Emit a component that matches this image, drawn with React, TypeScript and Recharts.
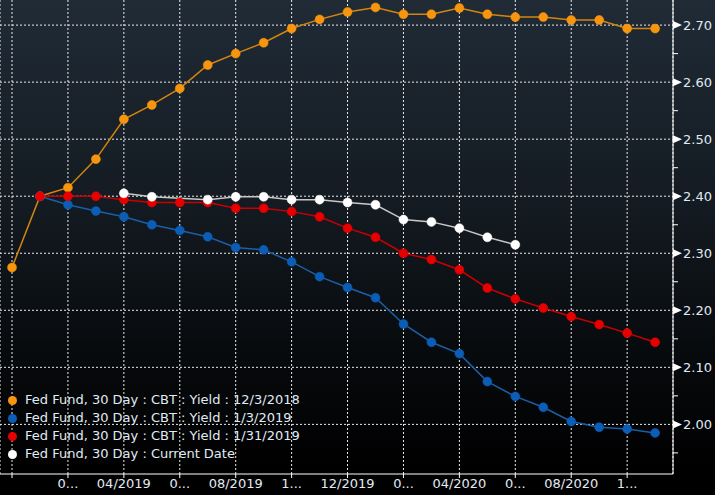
import React from 'react';
import { LineChart, Line, XAxis, YAxis, CartesianGrid, Legend } from 'recharts';

// month slots, 12/2018 .. 11/2020
const months = [
    '12/2018', '01/2019', '02/2019', '03/2019', '04/2019', '05/2019', '06/2019', '07/2019',
    '08/2019', '09/2019', '10/2019', '11/2019', '12/2019', '01/2020', '02/2020', '03/2020',
    '04/2020', '05/2020', '06/2020', '07/2020', '08/2020', '09/2020', '10/2020', '11/2020',
];

const yield12_3 = [
    2.275, 2.4, 2.415, 2.465, 2.535, 2.56, 2.589, 2.63, 2.65, 2.669, 2.694, 2.71,
    2.723, 2.731, 2.719, 2.719, 2.73, 2.719, 2.714, 2.714, 2.709, 2.709, 2.694, 2.694,
];
const yield1_3 = [
    null, 2.4, 2.385, 2.374, 2.364, 2.35, 2.34, 2.329, 2.31, 2.306, 2.285, 2.259,
    2.24, 2.222, 2.176, 2.144, 2.124, 2.075, 2.049, 2.03, 2.005, 1.995, 1.992, 1.985,
];
const yield1_31 = [
    null, 2.4, 2.4, 2.4, 2.394, 2.389, 2.389, 2.389, 2.379, 2.379, 2.373, 2.364,
    2.344, 2.328, 2.3, 2.289, 2.271, 2.239, 2.22, 2.204, 2.189, 2.175, 2.16, 2.144,
];
const currentDate = [
    null, null, null, null, 2.405, 2.399, null, 2.394, 2.399, 2.399, 2.394, 2.394,
    2.389, 2.385, 2.359, 2.355, 2.344, 2.328, 2.315, null, null, null, null, null,
];

const xTicks = [0, 2, 4, 6, 8, 10, 12, 14, 16, 18, 20, 22];
const xTickLabels = ['', '0...', '04/2019', '0...', '08/2019', '1...', '12/2019', '0...', '04/2020', '0...', '08/2020', '1...'];
const yMajor = [2.0, 2.1, 2.2, 2.3, 2.4, 2.5, 2.6, 2.7];
const yAll = [1.95, 2.0, 2.05, 2.1, 2.15, 2.2, 2.25, 2.3, 2.35, 2.4, 2.45, 2.5, 2.55, 2.6, 2.65, 2.7];

const series = [
    { key: 's1', name: 'Fed Fund, 30 Day : CBT : Yield : 12/3/2018', values: yield12_3, line: '#d4850f', dot: '#f7960e' },
    { key: 's2', name: 'Fed Fund, 30 Day : CBT : Yield : 1/3/2019', values: yield1_3, line: '#1a5fa8', dot: '#0b5db5' },
    { key: 's3', name: 'Fed Fund, 30 Day : CBT : Yield : 1/31/2019', values: yield1_31, line: '#c90000', dot: '#e60000' },
    { key: 's4', name: 'Fed Fund, 30 Day : Current Date', values: currentDate, line: '#c8c8c8', dot: '#ffffff' },
];

const data = months.map((m, i) => {
    const row: any = { idx: i, month: m };
    series.forEach((s) => {
        row[s.key] = s.values[i];
    });
    return row;
});

const FONT = '"DejaVu Sans", sans-serif';
const TEXT = '#e0ebf4';

const YTick = (props: any) => {
    const { x, y, payload } = props;
    const v = payload.value;
    const major = Math.round(v * 100) % 10 === 0;
    if (!major) {
        return <line x1={x} y1={y} x2={x + 5} y2={y} stroke="#ffffff" strokeWidth={1} />;
    }
    return (
        <g>
            <polygon points={`${x},${y - 4} ${x + 9},${y} ${x},${y + 4}`} fill="#ffffff" />
            <text x={x + 10} y={y} dy="0.35em" fill={TEXT} fontSize={13} fontFamily={FONT}>
                {v.toFixed(2)}
            </text>
        </g>
    );
};

const LegendBox = () => (
    <div style={{ fontFamily: FONT, fontSize: 13, color: TEXT, lineHeight: '18px' }}>
        {series.map((s) => (
            <div key={s.key} style={{ display: 'flex', alignItems: 'center', whiteSpace: 'nowrap' }}>
                <span
                    style={{
                        display: 'inline-block',
                        width: 9,
                        height: 9,
                        borderRadius: '50%',
                        background: s.dot,
                        marginRight: 8,
                    }}
                />
                {s.name}
            </div>
        ))}
    </div>
);

export default function App() {
    return (
        <div
            style={{
                position: 'fixed',
                left: 0,
                top: 0,
                width: 715,
                height: 495,
                background: 'linear-gradient(#202b36 0%, #141b22 40%, #080b0e 70%, #010102 92%, #000000 100%)',
            }}
        >
            <LineChart width={715} height={495} data={data} margin={{ top: 0, right: 0, bottom: 0, left: 0 }}>
                <CartesianGrid
                    stroke="#ececec"
                    strokeDasharray="2 2"
                    horizontalValues={yMajor}
                />
                <XAxis
                    dataKey="idx"
                    type="number"
                    domain={[-0.43, 23.64]}
                    ticks={xTicks}
                    tickFormatter={(v: number) => xTickLabels[xTicks.indexOf(v)]}
                    axisLine={{ stroke: '#ffffff' }}
                    tickLine={{ stroke: '#ffffff' }}
                    tickSize={4}
                    tickMargin={1}
                    height={21}
                    tick={{ fill: TEXT, fontSize: 13, fontFamily: FONT }}
                    interval={0}
                    allowDataOverflow
                />
                <YAxis
                    orientation="right"
                    domain={[1.913, 2.744]}
                    ticks={yAll}
                    tick={<YTick />}
                    tickSize={0}
                    tickMargin={0}
                    tickLine={false}
                    axisLine={{ stroke: '#ffffff' }}
                    width={42}
                    interval={0}
                    allowDataOverflow
                />
                {series.map((s) => (
                    <Line
                        key={s.key}
                        type="linear"
                        dataKey={s.key}
                        name={s.name}
                        stroke={s.line}
                        strokeWidth={1.5}
                        dot={{ r: 4.5, fill: s.dot, stroke: s.dot, strokeWidth: 0.5 }}
                        activeDot={false}
                        connectNulls
                        isAnimationActive={false}
                    />
                ))}
                <Legend
                    layout="horizontal"
                    verticalAlign="middle"
                    align="center"
                    content={<LegendBox />}
                    wrapperStyle={{ left: 8, top: 391, width: 'auto', height: 'auto' }}
                />
            </LineChart>
        </div>
    );
}
